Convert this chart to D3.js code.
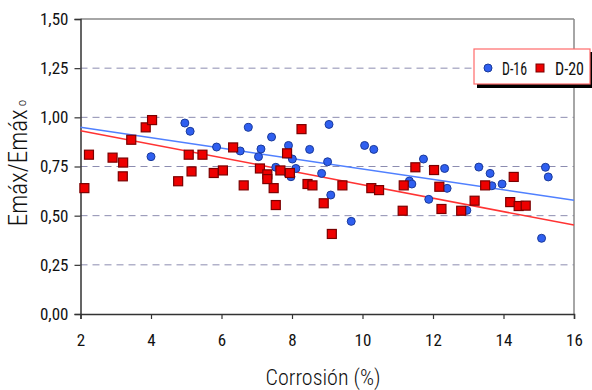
<!DOCTYPE html>
<html><head><meta charset="utf-8">
<script src="https://cdn.jsdelivr.net/npm/d3@7"></script>
<style>
html,body{margin:0;padding:0;background:#fff;}
svg{display:block;}
text{font-family:"Liberation Sans Narrow","Roboto Condensed","DejaVu Sans Condensed","Arial Narrow",sans-serif;fill:#111;}
</style></head><body>
<svg id="chart" width="592" height="390"></svg>
<script>
// Data
const d16x = [4.0,4.96,5.11,5.86,6.53,6.76,7.05,7.12,7.42,7.54,7.89,7.90,7.97,8.01,8.11,8.50,8.84,9.01,9.05,9.10,9.68,10.06,10.32,11.33,11.40,11.73,11.88,12.33,12.40,12.96,13.30,13.62,13.67,13.96,15.08,15.19,15.27];
const d16y = [0.80,0.971,0.929,0.849,0.829,0.949,0.80,0.839,0.90,0.746,0.712,0.857,0.698,0.788,0.74,0.837,0.715,0.774,0.964,0.605,0.471,0.857,0.837,0.676,0.661,0.788,0.583,0.74,0.639,0.527,0.747,0.715,0.652,0.661,0.385,0.746,0.697];
const d20x = [2.11,2.24,2.91,3.20,3.21,3.44,3.85,4.03,4.77,5.07,5.15,5.46,5.78,6.04,6.33,6.63,7.09,7.30,7.30,7.48,7.54,7.67,7.86,7.94,8.27,8.44,8.58,8.90,9.13,9.43,10.25,10.47,11.14,11.17,11.50,12.03,12.18,12.24,12.80,13.18,13.48,14.19,14.29,14.43,14.63];
const d20y = [0.64,0.81,0.795,0.70,0.77,0.886,0.949,0.986,0.675,0.81,0.725,0.81,0.717,0.73,0.847,0.654,0.74,0.71,0.686,0.64,0.554,0.73,0.817,0.717,0.94,0.661,0.654,0.563,0.407,0.654,0.64,0.63,0.525,0.654,0.746,0.732,0.647,0.534,0.525,0.576,0.654,0.569,0.697,0.549,0.551];
const trendX = [2,16];
const trend16 = [0.949,0.578];
const trend20 = [0.932,0.452];
const xTicks = [2,4,6,8,10,12,14,16];
const yTicks = [0,0.25,0.5,0.75,1.0,1.25,1.5];
const seriesNames = ["D-16","D-20"];

const svg = d3.select("#chart");
const L=80.5, R=574, T=19, B=314;
const x = d3.scaleLinear().domain([2,16]).range([L,R]);
const y = d3.scaleLinear().domain([0,1.5]).range([B,T]);
const fmt = v => d3.format(".2f")(v).replace(".",",");

// gridlines
svg.append("g").selectAll("line").data(yTicks.filter(v=>v>0&&v<1.5)).join("line")
  .attr("x1",L).attr("x2",R).attr("y1",d=>y(d)).attr("y2",d=>y(d))
  .attr("stroke","#8c8cb0").attr("stroke-width",1).attr("stroke-dasharray","7,5");
// top & right frame
svg.append("line").attr("x1",L).attr("x2",R).attr("y1",T).attr("y2",T).attr("stroke","#888").attr("stroke-width",1.5);
svg.append("line").attr("x1",R).attr("x2",R).attr("y1",T).attr("y2",B).attr("stroke","#888").attr("stroke-width",1.5);

// axes
const ya = svg.append("g").attr("transform",`translate(${L},0)`)
  .call(d3.axisLeft(y).tickValues(yTicks).tickFormat(fmt).tickSize(6).tickPadding(6));
const xa = svg.append("g").attr("transform",`translate(0,${B})`)
  .call(d3.axisBottom(x).tickValues(xTicks).tickFormat(d=>d).tickSize(5).tickPadding(15));
[ya,xa].forEach(g=>{
  g.select(".domain").attr("stroke","#333").attr("stroke-width",1.5);
  g.selectAll(".tick line").attr("stroke","#333").attr("stroke-width",1.2);
  g.selectAll("text").attr("font-size",17).attr("fill","#111")
   .style("font-family",'"Liberation Sans Narrow","Roboto Condensed","DejaVu Sans Condensed",sans-serif');
});

// trend lines
const line = d3.line().x(d=>x(d[0])).y(d=>y(d[1]));
svg.append("path").datum(trendX.map((v,i)=>[v,trend16[i]])).attr("d",line)
  .attr("fill","none").attr("stroke","#5080ff").attr("stroke-width",1.5);
svg.append("path").datum(trendX.map((v,i)=>[v,trend20[i]])).attr("d",line)
  .attr("fill","none").attr("stroke","#ff3333").attr("stroke-width",1.5);

// points
const p16 = d16x.map((v,i)=>[v,d16y[i]]);
const p20 = d20x.map((v,i)=>[v,d20y[i]]);
svg.append("g").selectAll("circle").data(p16).join("circle")
  .attr("cx",d=>x(d[0])).attr("cy",d=>y(d[1])).attr("r",4)
  .attr("fill","#2f5ff0").attr("stroke","#1a3a9a").attr("stroke-width",1);
svg.append("g").selectAll("rect").data(p20).join("rect")
  .attr("x",d=>x(d[0])-4.5).attr("y",d=>y(d[1])-4.5).attr("width",9).attr("height",9)
  .attr("fill","#ee0000").attr("stroke","#7a0000").attr("stroke-width",1.2);

// axis titles
svg.append("text").attr("x",323).attr("y",385).attr("text-anchor","middle")
  .attr("font-size",22).attr("font-weight",300).text("Corrosión (%)");
const yt = svg.append("text").attr("transform","translate(27,163) rotate(-90)")
  .attr("text-anchor","middle").attr("font-size",25).attr("font-weight",300);
yt.append("tspan").text("Emáx/Emáx");
yt.append("tspan").attr("font-size",13).attr("dx",3).attr("dy",-1).text("o");

// legend
const lg = svg.append("g");
lg.append("rect").attr("x",477).attr("y",52).attr("width",116).attr("height",36).attr("fill","#000");
lg.append("rect").attr("x",474).attr("y",49).attr("width",116).attr("height",35)
  .attr("fill","#fff").attr("stroke","#ff6a6a").attr("stroke-width",1.2);
lg.append("circle").attr("cx",488).attr("cy",68).attr("r",4).attr("fill","#2f5ff0").attr("stroke","#1a3a9a");
lg.append("text").attr("x",502).attr("y",75).attr("font-size",19)
  .attr("textLength",25).attr("lengthAdjust","spacingAndGlyphs").text(seriesNames[0]);
lg.append("rect").attr("x",536).attr("y",64).attr("width",8).attr("height",8).attr("fill","#ee0000").attr("stroke","#7a0000");
lg.append("text").attr("x",555).attr("y",75).attr("font-size",19)
  .attr("textLength",29).attr("lengthAdjust","spacingAndGlyphs").text(seriesNames[1]);
</script>
</body></html>
